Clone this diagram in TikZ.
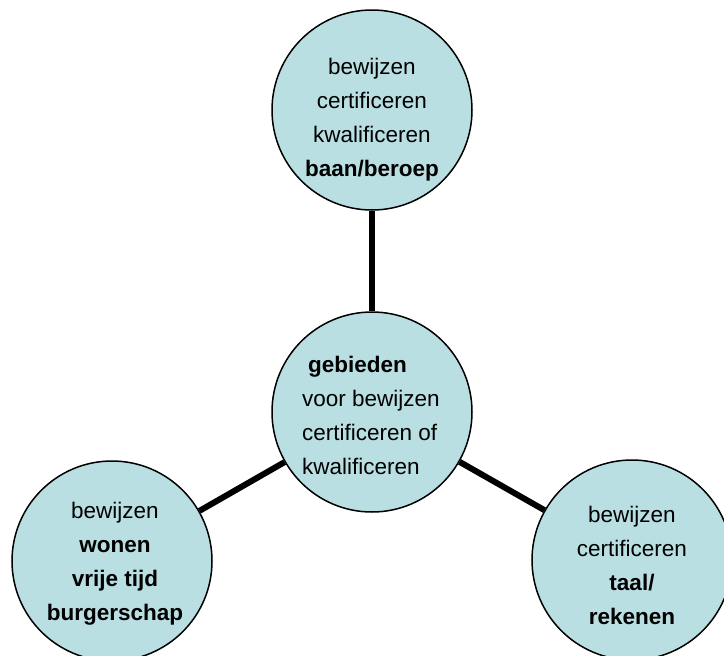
\documentclass[tikz,border=0pt]{standalone}
\usepackage{fontspec}
\setmainfont{Liberation Sans}
\definecolor{bubblefill}{RGB}{185,223,227}
\begin{document}
\begin{tikzpicture}[x=1pt,y=-1pt,
  bubble/.style={circle, draw=black, line width=1.5pt, fill=bubblefill, minimum size=200pt, inner sep=0pt},
  txt/.style={font=\fontsize{22.5}{34}\selectfont, align=center, inner sep=0pt},
  link/.style={line width=6pt}]
\useasboundingbox (0,0) rectangle (724,656);
\node[bubble] (top) at (372,110) {};
\node[bubble] (mid) at (372,412) {};
\node[bubble] (left) at (112,561) {};
\node[bubble] (right) at (632,560) {};
\draw[link] (top) -- (mid);
\draw[link] (mid) -- (left);
\draw[link] (mid) -- (right);
\node[txt] (toptxt) at ([yshift=-10pt]top.center) {bewijzen\\certificeren\\kwalificeren\\\textbf{baan/beroep}};
\node[txt, align=left] (midtxt) at ([xshift=-1pt,yshift=-3pt]mid.center) {\hspace*{6pt}\textbf{gebieden}\\voor bewijzen\\certificeren of\\kwalificeren};
\node[txt] (lefttxt) at ([xshift=3pt,yshift=-3pt]left.center) {bewijzen\\\textbf{wonen}\\\textbf{vrije tijd}\\\textbf{burgerschap}};
\node[txt] (righttxt) at ([yshift=-5pt]right.center) {bewijzen\\certificeren\\\textbf{taal/}\\\textbf{rekenen}};
\end{tikzpicture}
\end{document}
